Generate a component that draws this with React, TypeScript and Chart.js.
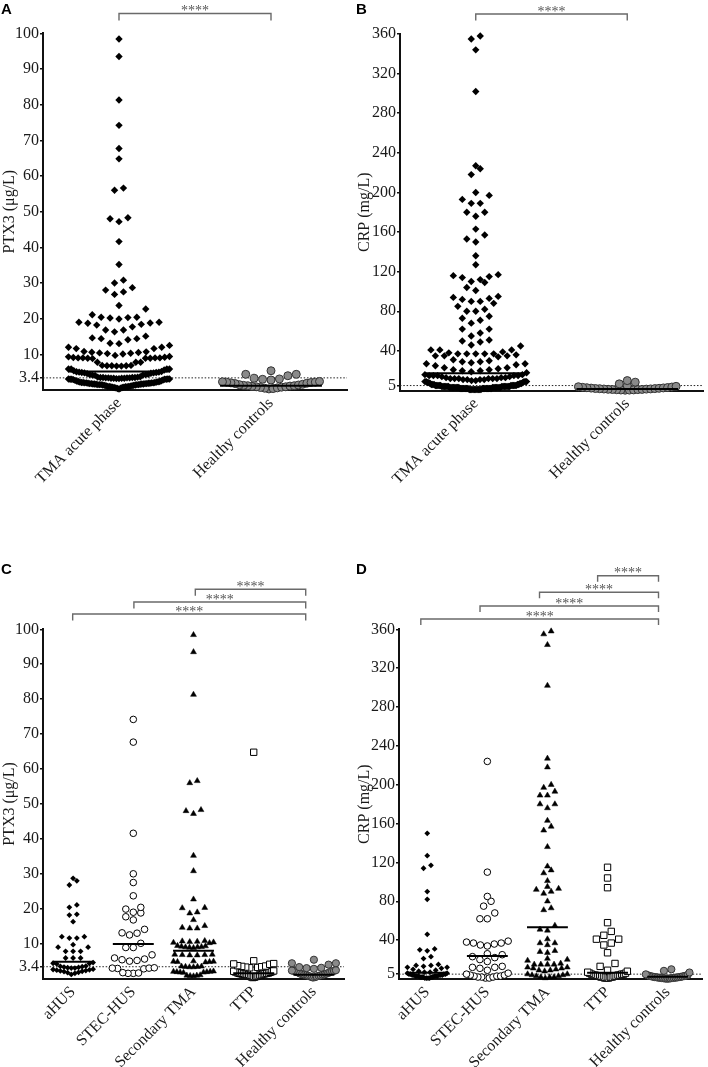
import React, { useEffect, useRef } from 'react';
import { Chart, registerables } from 'chart.js';

Chart.register(...registerables);

// ---------------- DATA ----------------
const groupsAB = ['TMA acute phase', 'Healthy controls'];
const groupsCD = ['aHUS', 'STEC-HUS', 'Secondary TMA', 'TTP', 'Healthy controls'];
const ptx3Ticks = [3.4, 10, 20, 30, 40, 50, 60, 70, 80, 90, 100];
const crpTicks = [5, 40, 80, 120, 160, 200, 240, 280, 320, 360];
const ptx3Cutoff = 3.4;
const crpCutoff = 5;
const significance = '****';

// PTX3 (µg/L)
const ptx3_aHUS = [28.7, 28.0, 26.8, 21.1, 20.4, 18.4, 18.2, 16.3, 12.0, 11.6, 11.6, 12.0, 9.7, 9.0, 9.0, 7.8, 7.8, 7.8, 5.9, 5.9, 5.9, 4.6, 4.4, 4.3, 4.2, 3.6, 3.5, 3.4, 3.3, 3.2, 3.1, 3.0, 3.0, 2.7, 2.6, 2.5, 2.4, 2.3, 2.2, 2.1, 2.0, 1.8, 1.7, 1.5, 1.2];
const ptx3_STEC = [74.2, 67.7, 41.6, 30.0, 27.5, 23.7, 20.4, 19.9, 19.0, 18.8, 17.7, 16.8, 14.1, 13.1, 13.0, 12.5, 10.1, 8.9, 8.9, 6.8, 5.9, 5.6, 5.4, 5.2, 5.0, 3.1, 3.0, 3.0, 2.9, 2.8, 1.7, 1.6, 1.5, 1.5];
const ptx3_Secondary = [98.4, 93.5, 81.3, 56.6, 56.0, 48.3, 48.0, 47.2, 35.2, 30.8, 22.7, 20.3, 20.2, 19.0, 18.7, 16.8, 15.1, 14.6, 14.4, 14.4, 10.8, 10.7, 10.6, 10.5, 10.4, 10.3, 10.2, 9.4, 9.3, 9.2, 9.1, 9.0, 9.0, 8.9, 8.8, 6.9, 6.9, 6.8, 6.8, 6.7, 6.7, 5.0, 4.9, 4.9, 4.8, 4.8, 4.7, 3.5, 3.5, 3.4, 3.4, 3.3, 3.3, 2.1, 2.0, 2.0, 1.9, 1.9, 1.8, 1.8, 1.7, 1.0, 0.9, 0.9, 0.8, 0.7];
const ptx3_TTP = [64.8, 5.1, 4.3, 4.2, 4.1, 3.7, 3.6, 3.5, 3.4, 3.3, 3.2, 3.1, 2.4, 2.2, 2.1, 2.0, 1.9, 1.8, 1.7, 1.6, 1.5, 1.5, 1.4, 1.4, 1.3, 1.3, 1.2, 1.1, 1.0, 1.0, 0.9, 0.8, 0.7, 0.6, 0.5, 0.4, 0.3];
const ptx3_Healthy = [5.4, 4.4, 4.4, 4.0, 3.3, 3.1, 3.0, 2.8, 2.4, 2.3, 2.2, 2.2, 2.1, 2.0, 1.9, 1.8, 1.6, 1.5, 1.4, 1.3, 1.2, 1.2, 1.1, 1.0, 0.9, 0.9, 0.8, 0.7, 0.6, 0.5, 0.4, 0.3];
// the acute-phase group pools all TMA patients
const ptx3_TMA = [...ptx3_aHUS, ...ptx3_STEC, ...ptx3_Secondary, ...ptx3_TTP];
const ptx3MediansAB = [5.2, 1.2];
const ptx3MediansCD = [4.85, 9.9, 8.0, 1.5, 1.1];

// CRP (mg/L)
const crp_aHUS = [150, 127, 117, 114, 90, 82, 46, 31, 30, 29, 23, 21, 15, 14, 14, 13, 12, 12, 11, 10, 9, 8, 7, 7, 6, 6, 5, 5, 5, 5, 4, 4, 4, 4, 4, 3, 3, 3, 3, 3, 3, 2, 2, 2, 2, 2, 1, 1, 1, 1];
const crp_STEC = [224, 110, 85, 80, 75, 68, 62, 62, 39, 38, 37, 37, 36, 35, 34, 26, 25, 23, 22, 20, 18, 13, 12, 12, 11, 9, 6, 5, 4, 4, 3, 3, 3, 2, 2, 2, 1, 1];
const crp_Secondary = [358, 355, 344, 302, 227, 218, 200, 197, 193, 189, 189, 180, 180, 176, 163, 157, 153, 136, 116, 112, 109, 101, 95, 93, 92, 90, 88, 80, 73, 71, 55, 51, 50, 41, 37, 37, 35, 29, 28, 27, 21, 20, 19, 16, 15, 15, 15, 15, 12, 12, 11, 11, 10, 9, 9, 8, 5, 5, 4, 4, 3, 3, 2, 2, 2, 1];
const crp_TTP = [115, 104, 94, 58, 49, 45, 41, 41, 37, 35, 27, 16, 13, 9, 8, 7, 6, 6, 5, 5, 5, 4, 4, 4, 4, 3, 3, 3, 3, 2, 2, 2, 2, 1, 1, 1];
const crp_Healthy = [10.0, 8.4, 6.7, 4.8, 4.2, 3.8, 3.5, 3.2, 3.0, 2.8, 2.6, 2.4, 2.2, 2.0, 1.9, 1.8, 1.6, 1.5, 1.4, 1.2, 1.1, 1.0, 0.9, 0.8, 0.6, 0.5, 0.4, 0.3];
const crp_TMA = [...crp_aHUS, ...crp_STEC, ...crp_Secondary, ...crp_TTP];
const crpMediansAB = [17.5, 1.6];
const crpMediansCD = [6.5, 23.7, 53.2, 6.5, 2.4];

// comparisons (group positions, 1-based)
const bracketsAB = [[1, 2]];
const bracketsC = [[0.993, 4.864], [2.01, 4.864], [3.03, 4.864]];
const bracketsD = [[0.893, 4.848], [1.878, 4.848], [2.868, 4.848], [3.835, 4.848]];

// ---------------- STYLE ----------------
const SERIF = '"Liberation Serif", "Times New Roman", Times, serif';
const SANS = '"Liberation Sans", Arial, Helvetica, sans-serif';

type Sty = { pointStyle: string; radius: number; bg: string; border: string; bw: number; spacing: number; row: number; half: number };

const diamondA: Sty = { pointStyle: 'rectRot', radius: 3.7, bg: '#000', border: '#000', bw: 0, spacing: 9, row: 10, half: 51 };
const diamondB: Sty = { pointStyle: 'rectRot', radius: 3.7, bg: '#000', border: '#000', bw: 0, spacing: 9, row: 8, half: 51 };
const healthyA: Sty = { pointStyle: 'circle', radius: 4, bg: '#8a8a8a', border: '#333', bw: 1, spacing: 8.5, row: 8, half: 49 };
const healthyB: Sty = { pointStyle: 'circle', radius: 4, bg: '#8a8a8a', border: '#333', bw: 1, spacing: 8, row: 4, half: 49 };
const stylesCD: Sty[] = [
  { pointStyle: 'rectRot', radius: 2.9, bg: '#000', border: '#000', bw: 0, spacing: 7.5, row: 5.8, half: 20 },
  { pointStyle: 'circle', radius: 3.3, bg: '#fff', border: '#000', bw: 1, spacing: 7.5, row: 7, half: 21 },
  { pointStyle: 'triangle', radius: 3.4, bg: '#000', border: '#000', bw: 0.5, spacing: 7.5, row: 5.6, half: 20 },
  { pointStyle: 'rect', radius: 4.5, bg: '#fff', border: '#000', bw: 1, spacing: 7.5, row: 7, half: 20 },
  { pointStyle: 'circle', radius: 3.6, bg: '#8a8a8a', border: '#333', bw: 1, spacing: 7.5, row: 7.4, half: 22 },
];

// beeswarm layout (GraphPad-like rows)
function swarm(values: number[], center: number, pxPerX: number, pxPerY: number, s: Sty) {
  const sorted = [...values].sort((a, b) => a - b);
  const rowH = s.row / pxPerY;
  const bins: number[][] = [];
  let cur: number[] = [];
  let start = -Infinity;
  for (const v of sorted) {
    if (v - start >= rowH) {
      if (cur.length) bins.push(cur);
      cur = [v];
      start = v;
    } else cur.push(v);
  }
  if (cur.length) bins.push(cur);
  const pts: { x: number; y: number }[] = [];
  for (const bin of bins) {
    const n = bin.length;
    let sp = s.spacing;
    if (n > 1 && (n - 1) * sp > 2 * s.half) sp = (2 * s.half) / (n - 1);
    const slots: number[] = [];
    for (let j = 0; j < n; j++) slots.push((j - (n - 1) / 2) * sp);
    slots.sort((a, b) => Math.abs(a) - Math.abs(b) || a - b);
    bin.forEach((v, i) => pts.push({ x: center + slots[i] / pxPerX, y: v }));
  }
  return pts;
}

type PanelCfg = {
  letter: string;
  left: number; top: number; width: number; height: number;
  area: { left: number; top: number; right: number; bottom: number };
  xMin: number; xMax: number; yMax: number;
  labels: string[]; groups: number[][]; medians: number[]; styles: Sty[];
  yTicks: number[]; yTitle: string; cutoff: number;
  brackets: number[][]; bracketY: number[]; tick: number;
  medHalf: number;
};

function Panel({ cfg }: { cfg: PanelCfg }) {
  const ref = useRef<HTMLCanvasElement>(null);
  useEffect(() => {
    if (!ref.current) return;
    const { area } = cfg;
    const pxPerX = (area.right - area.left) / (cfg.xMax - cfg.xMin);
    const pxPerY = (area.bottom - area.top) / cfg.yMax;
    const datasets: any[] = [];
    datasets.push({
      data: [{ x: cfg.xMin, y: cfg.cutoff }, { x: cfg.xMax, y: cfg.cutoff }],
      showLine: true, pointRadius: 0, borderColor: '#222', borderWidth: 1, borderDash: [1.5, 1.8], order: 5,
    });
    cfg.groups.forEach((vals, i) => {
      const s = cfg.styles[i];
      datasets.push({
        data: swarm(vals, i + 1, pxPerX, pxPerY, s),
        pointStyle: s.pointStyle, pointRadius: s.radius, pointBackgroundColor: s.bg,
        pointBorderColor: s.border, pointBorderWidth: s.bw, showLine: false, order: 3, clip: false,
      });
    });
    cfg.medians.forEach((m, i) => {
      datasets.push({
        data: [{ x: i + 1 - cfg.medHalf, y: m }, { x: i + 1 + cfg.medHalf, y: m }],
        showLine: true, pointRadius: 0, borderColor: '#000', borderWidth: 2, order: 1,
      });
    });
    const annot = {
      id: 'annot',
      afterDraw(chart: any) {
        const ctx = chart.ctx as CanvasRenderingContext2D;
        const xs = chart.scales.x;
        ctx.save();
        ctx.fillStyle = '#000';
        ctx.font = `bold 15px ${SANS}`;
        ctx.textAlign = 'left';
        ctx.textBaseline = 'alphabetic';
        ctx.fillText(cfg.letter, 1, 14);
        cfg.brackets.forEach((b, k) => {
          const x1 = xs.getPixelForValue(b[0]);
          const x2 = xs.getPixelForValue(b[1]);
          const y = cfg.bracketY[k];
          ctx.strokeStyle = '#6a6a6a';
          ctx.lineWidth = 1.4;
          ctx.beginPath();
          ctx.moveTo(x1, y + cfg.tick);
          ctx.lineTo(x1, y);
          ctx.lineTo(x2, y);
          ctx.lineTo(x2, y + cfg.tick);
          ctx.stroke();
          ctx.fillStyle = '#555';
          ctx.font = `14px ${SERIF}`;
          ctx.textAlign = 'center';
          ctx.fillText(significance, (x1 + x2) / 2, y + 1.5);
        });
        ctx.restore();
      },
    };
    const chart = new Chart(ref.current, {
      type: 'scatter',
      data: { datasets },
      plugins: [annot],
      options: {
        responsive: false,
        animation: false,
        layout: { padding: { left: 0, top: area.top, right: cfg.width - area.right, bottom: 0 } },
        plugins: { legend: { display: false }, tooltip: { enabled: false } },
        scales: {
          x: {
            type: 'linear', min: cfg.xMin, max: cfg.xMax,
            afterFit: (s: any) => { s.height = cfg.height - area.bottom; },
            afterBuildTicks: (s: any) => { s.ticks = cfg.labels.map((_, i) => ({ value: i + 1 })); },
            ticks: {
              autoSkip: false, minRotation: 45, maxRotation: 45, padding: 4, color: '#1a1a1a',
              font: { family: SERIF, size: 16 },
              callback: (v: any) => cfg.labels[Math.round(Number(v)) - 1] ?? '',
            },
            grid: { display: false, drawTicks: false },
            border: { display: true, color: '#111', width: 2 },
          },
          y: {
            type: 'linear', min: 0, max: cfg.yMax,
            afterFit: (s: any) => { s.width = area.left; },
            afterBuildTicks: (s: any) => { s.ticks = cfg.yTicks.map((v) => ({ value: v })); },
            ticks: { autoSkip: false, padding: 1, color: '#1a1a1a', font: { family: SERIF, size: 16 }, callback: (v: any) => String(v) },
            grid: { drawOnChartArea: false, drawTicks: true, tickLength: 3, color: '#111', lineWidth: 1.5 },
            border: { display: true, color: '#111', width: 2 },
            title: { display: true, text: cfg.yTitle, color: '#1a1a1a', font: { family: SERIF, size: 16 }, padding: 0 },
          },
        },
      } as any,
    });
    return () => chart.destroy();
  }, [cfg]);
  return (
    <canvas
      ref={ref}
      width={cfg.width}
      height={cfg.height}
      style={{ position: 'absolute', left: cfg.left, top: cfg.top, width: cfg.width, height: cfg.height, display: 'block' }}
    />
  );
}

const panelA: PanelCfg = {
  letter: 'A', left: 0, top: 0, width: 352, height: 590,
  area: { left: 43, top: 33.3, right: 350, bottom: 390 },
  xMin: 0.5, xMax: 2.5, yMax: 100,
  labels: groupsAB, groups: [ptx3_TMA, ptx3_Healthy], medians: ptx3MediansAB, styles: [diamondA, healthyA],
  yTicks: ptx3Ticks, yTitle: 'PTX3 (μg/L)', cutoff: ptx3Cutoff,
  brackets: bracketsAB, bracketY: [13.5], tick: 7, medHalf: 0.335,
};
const panelB: PanelCfg = {
  letter: 'B', left: 355, top: 0, width: 353, height: 590,
  area: { left: 45, top: 34, right: 349, bottom: 390.5 },
  xMin: 0.5, xMax: 2.5, yMax: 360,
  labels: groupsAB, groups: [crp_TMA, crp_Healthy], medians: crpMediansAB, styles: [diamondB, healthyB],
  yTicks: crpTicks, yTitle: 'CRP (mg/L)', cutoff: crpCutoff,
  brackets: bracketsAB, bracketY: [14], tick: 6.5, medHalf: 0.335,
};
const panelC: PanelCfg = {
  letter: 'C', left: 0, top: 560, width: 352, height: 507,
  area: { left: 43, top: 69.3, right: 344, bottom: 418.6 },
  xMin: 0.5, xMax: 5.5, yMax: 100,
  labels: groupsCD, groups: [ptx3_aHUS, ptx3_STEC, ptx3_Secondary, ptx3_TTP, ptx3_Healthy], medians: ptx3MediansCD, styles: stylesCD,
  yTicks: ptx3Ticks, yTitle: 'PTX3 (μg/L)', cutoff: ptx3Cutoff,
  brackets: bracketsC, bracketY: [54, 42, 29.3], tick: 6.5, medHalf: 0.34,
};
const panelD: PanelCfg = {
  letter: 'D', left: 355, top: 560, width: 353, height: 507,
  area: { left: 44, top: 69.3, right: 350, bottom: 419 },
  xMin: 0.53, xMax: 5.58, yMax: 360,
  labels: groupsCD, groups: [crp_aHUS, crp_STEC, crp_Secondary, crp_TTP, crp_Healthy], medians: crpMediansCD, styles: stylesCD,
  yTicks: crpTicks, yTitle: 'CRP (mg/L)', cutoff: crpCutoff,
  brackets: bracketsD, bracketY: [59, 46, 32.3, 15.7], tick: 6, medHalf: 0.34,
};

export default function App() {
  return (
    <div style={{ position: 'absolute', left: 0, top: 0, width: 708, height: 1067, background: '#fff', overflow: 'hidden' }}>
      <Panel cfg={panelA} />
      <Panel cfg={panelB} />
      <Panel cfg={panelC} />
      <Panel cfg={panelD} />
    </div>
  );
}
